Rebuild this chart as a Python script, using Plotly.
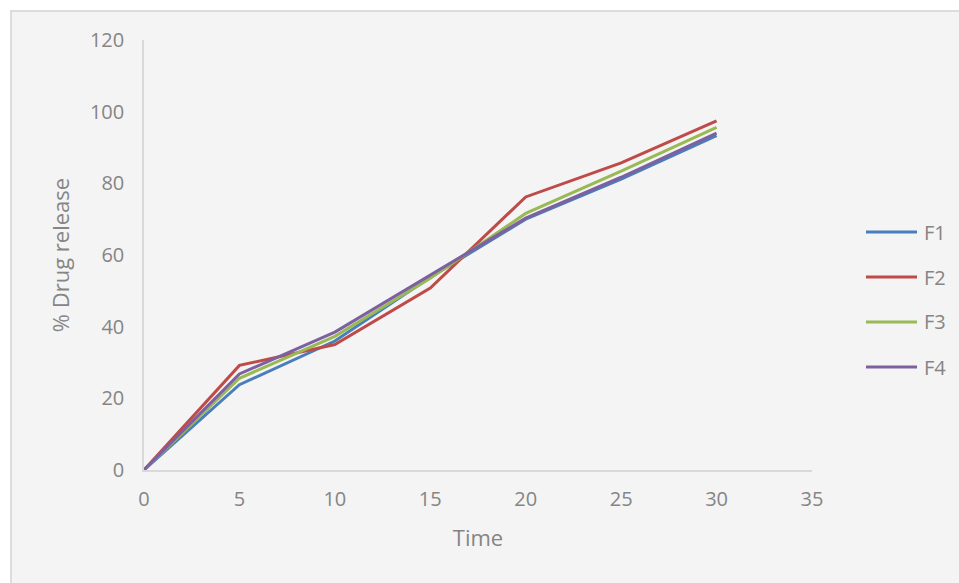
import plotly.graph_objects as go

# Dissolution profile: cumulative % drug released vs time
time = [0, 5, 10, 15, 20, 25, 30]
f1 = [0, 23.8, 36.0, 53.8, 70.0, 81.2, 93.3]
f2 = [0, 29.2, 35.0, 50.8, 76.2, 85.7, 97.4]
f3 = [0, 25.6, 37.3, 53.5, 71.6, 83.4, 95.6]
f4 = [0, 26.8, 38.5, 54.4, 70.3, 81.7, 94.0]

series_names = ["F1", "F2", "F3", "F4"]
series_values = [f1, f2, f3, f4]
series_colors = ["#4A7EBB", "#BE4B48", "#98B954", "#7D60A0"]

x_ticks = [0, 5, 10, 15, 20, 25, 30, 35]
y_ticks = [0, 20, 40, 60, 80, 100, 120]

W, H = 959, 583
L, R, T, B = 144, 812, 40, 470  # plot area edges in px

def px_x(p):
    return (p - L) / (R - L)

def px_y(p):
    return (B - p) / (B - T)

font = "Open Sans, Liberation Sans, sans-serif"
grey = "#858585"

fig = go.Figure()
for name, vals, col in zip(series_names, series_values, series_colors):
    fig.add_trace(go.Scatter(x=time, y=vals, name=name, mode="lines",
                             line=dict(color=col, width=3), showlegend=False))

shapes = [
    # chart frame
    dict(type="rect", xref="paper", yref="paper", layer="below",
         x0=px_x(11), x1=px_x(970), y0=px_y(595), y1=px_y(11),
         fillcolor="#f4f4f4", line=dict(color="#dcdcdc", width=2)),
]
annotations = []

# legend drawn at the right of the plot
for i, (name, col) in enumerate(zip(series_names, series_colors)):
    yy = 232 + 45 * i
    shapes.append(dict(type="line", xref="paper", yref="paper",
                       x0=px_x(866), x1=px_x(917), y0=px_y(yy), y1=px_y(yy),
                       line=dict(color=col, width=3)))
    annotations.append(dict(xref="paper", yref="paper", x=px_x(922), y=px_y(yy),
                            text=name, showarrow=False, xanchor="left", yanchor="middle",
                            font=dict(family=font, size=20, color=grey)))

fig.update_layout(
    width=W, height=H,
    margin=dict(l=L, r=W - R, t=T, b=H - B),
    paper_bgcolor="white",
    plot_bgcolor="rgba(0,0,0,0)",
    font=dict(family=font, size=20, color=grey),
    shapes=shapes,
    annotations=annotations,
    showlegend=False,
)
fig.update_xaxes(range=[0, 35], tickvals=x_ticks, showgrid=False, zeroline=False,
                 showline=True, linecolor="#d9d9d9", linewidth=1.5,
                 ticks="outside", ticklen=10, tickcolor="rgba(0,0,0,0)",
                 tickfont=dict(size=20, color=grey),
                 title=dict(text="Time", font=dict(size=22, color=grey), standoff=20))
fig.update_yaxes(range=[0, 120], tickvals=y_ticks, showgrid=False, zeroline=False,
                 showline=True, linecolor="#d9d9d9", linewidth=1.5,
                 ticks="outside", ticklen=14, tickcolor="rgba(0,0,0,0)",
                 tickfont=dict(size=20, color=grey),
                 title=dict(text="% Drug release", font=dict(size=22, color=grey), standoff=14))

fig.write_html("out.html")
